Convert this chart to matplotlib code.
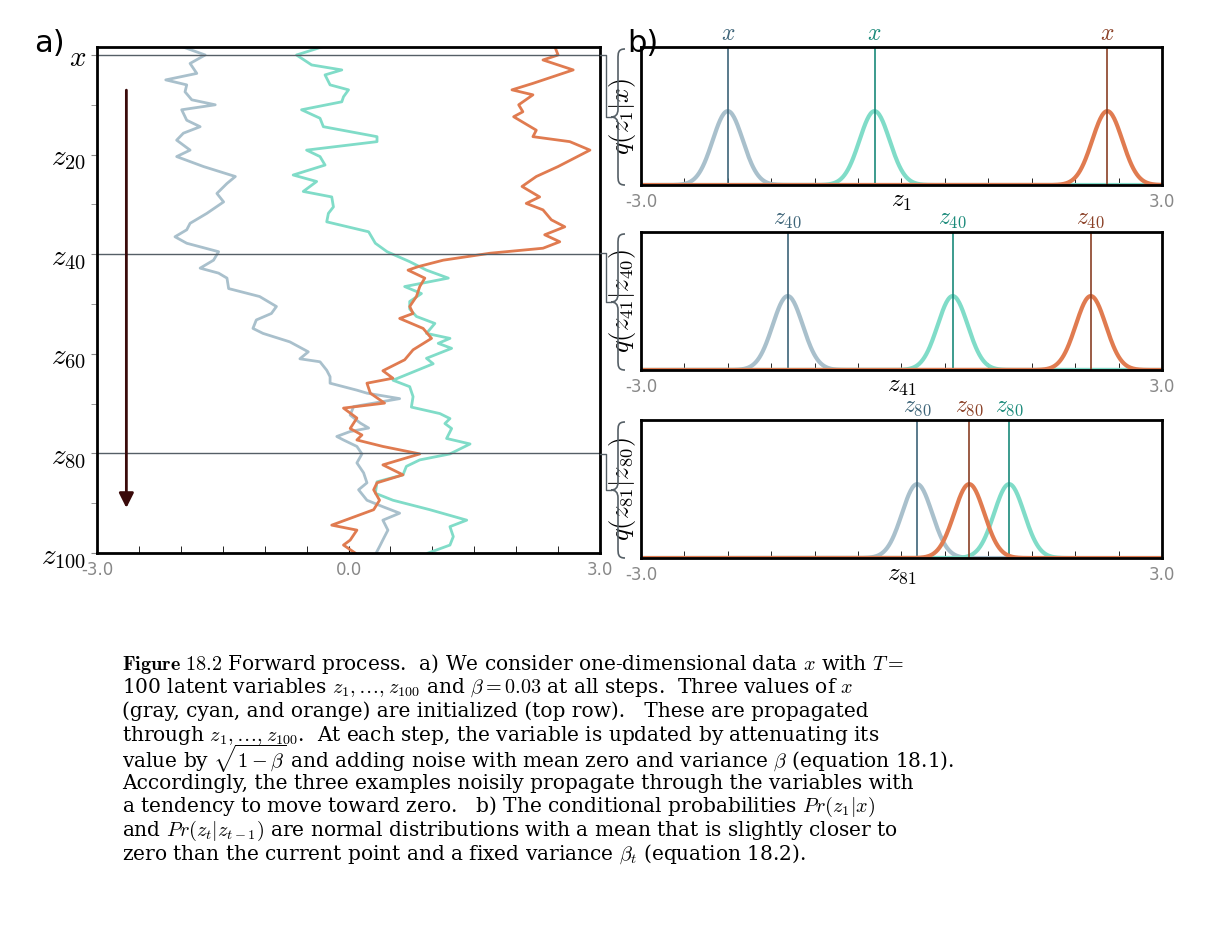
import numpy as np
import matplotlib
matplotlib.use("Agg")
import matplotlib.pyplot as plt
from matplotlib.path import Path
from matplotlib.patches import PathPatch

plt.rcParams['mathtext.fontset'] = 'cm'

# ---- panel a: three forward-diffusion paths (step, value)
gray_steps = [-1.7, 0, 1.7, 3.7, 5.0, 6.0, 7.4, 9.0, 10.0, 11.0, 13.1, 14.4, 15.7, 17.1, 19.1, 20.4, 22.4, 24.4,
              25.8, 27.8, 29.5, 31.8, 33.8, 35.1, 36.5, 37.8, 39.5, 41.2, 42.8, 43.8, 44.8, 46.9, 48.5, 50.5,
              51.9, 53.2, 54.9, 55.9, 57.6, 59.6, 61.0, 61.6, 63.3, 64.6, 65.9, 67.3, 67.9, 69.0, 70.6, 72.3,
              73.9, 74.9, 75.6, 76.6, 77.3, 78.6, 80.1, 81.9, 83.9, 85.9, 87.3, 89.4, 90.7, 92.0, 93.4, 95.4,
              96.7, 98.7, 100]
gray_vals = [-1.99, -1.71, -1.89, -1.81, -2.18, -1.93, -1.95, -1.87, -1.59, -1.99, -1.93, -1.77, -1.97, -2.05,
             -1.89, -2.05, -1.73, -1.35, -1.45, -1.57, -1.49, -1.69, -1.89, -1.93, -2.07, -1.93, -1.55, -1.61,
             -1.77, -1.55, -1.45, -1.43, -1.06, -0.86, -0.92, -1.10, -1.14, -1.02, -0.70, -0.48, -0.58, -0.34,
             -0.26, -0.22, -0.22, 0.10, 0.22, 0.61, 0.06, 0.02, 0.14, 0.24, 0.02, -0.14, -0.06, 0.10, 0.16,
             0.10, 0.18, 0.22, 0.12, 0.22, 0.41, 0.61, 0.41, 0.47, 0.43, 0.37, 0.33]

cyan_steps = [-1.7, 0, 2.0, 3.0, 4.0, 6.0, 7.0, 8.4, 9.4, 11.0, 12.7, 14.4, 16.4, 17.4, 19.1, 20.4, 22.1, 24.1,
              25.4, 27.4, 28.5, 30.5, 31.8, 33.5, 35.5, 37.8, 39.5, 41.5, 43.2, 44.8, 46.5, 47.9, 49.5, 51.0,
              52.5, 53.9, 55.9, 56.9, 57.9, 58.9, 60.9, 62.0, 65.3, 66.6, 68.6, 70.7, 72.0, 73.0, 74.0, 75.0,
              77.0, 78.1, 80.1, 81.3, 82.6, 84.3, 85.7, 88.0, 89.4, 91.3, 93.4, 94.7, 96.7, 98.4, 100]
cyan_vals = [-0.30, -0.62, -0.44, -0.08, -0.28, -0.22, 0.0, -0.06, -0.08, -0.56, -0.34, -0.30, 0.34, 0.34,
             -0.50, -0.34, -0.28, -0.66, -0.38, -0.54, -0.20, -0.18, -0.24, -0.26, 0.24, 0.32, 0.46, 0.73,
             0.93, 1.19, 0.67, 0.87, 0.73, 0.73, 0.81, 1.03, 0.93, 1.21, 1.07, 1.23, 0.93, 1.01, 0.53, 0.73,
             0.77, 0.75, 1.09, 1.21, 1.15, 1.23, 1.17, 1.45, 1.21, 0.85, 0.69, 0.65, 0.34, 0.32, 0.53, 0.97,
             1.41, 1.21, 1.25, 1.21, 0.95]

orange_steps = [-1.7, 0, 1.0, 3.0, 5.7, 7.0, 8.0, 10.0, 11.4, 12.4, 15.1, 16.4, 17.4, 19.1, 22.4, 24.4, 26.4,
                28.5, 29.8, 31.1, 33.1, 34.5, 36.1, 37.5, 38.8, 39.8, 41.2, 42.5, 43.2, 44.8, 46.5, 48.5,
                50.5, 51.9, 52.9, 54.9, 56.9, 59.2, 61.2, 63.4, 64.9, 65.9, 67.9, 69.9, 70.9, 72.9, 75.0,
                76.3, 77.3, 78.6, 80.1, 82.3, 84.3, 85.9, 87.3, 89.4, 91.3, 94.4, 95.4, 97.4, 98.4, 100]
orange_vals = [2.46, 2.50, 2.32, 2.68, 2.20, 1.95, 2.20, 2.03, 2.08, 1.97, 2.24, 2.20, 2.64, 2.88, 2.50, 2.24,
               2.07, 2.28, 2.12, 2.32, 2.42, 2.58, 2.34, 2.52, 2.32, 1.69, 1.13, 0.83, 0.71, 0.91, 0.85, 0.81,
               0.73, 0.77, 0.61, 0.89, 0.99, 0.77, 0.67, 0.41, 0.53, 0.22, 0.26, 0.43, -0.06, 0.10, 0.02,
               0.16, 0.10, 0.41, 0.85, 0.41, 0.65, 0.34, 0.30, 0.37, 0.30, -0.20, 0.10, 0.02, -0.06, 0.08]

ytick_steps = [0, 20, 40, 60, 80, 100]
ytick_labels = [r'$x$', r'$z_{20}$', r'$z_{40}$', r'$z_{60}$', r'$z_{80}$', r'$z_{100}$']
marked_steps = [0, 40, 80]

# ---- panel b: means of the conditionals (gray, cyan, orange) per row
b_means = [[-2.0, -0.31, 2.37], [-1.31, 0.59, 2.18], [0.18, 1.24, 0.78]]
b_tags = [r'$x$', r'$z_{40}$', r'$z_{80}$']
b_ylabels = [r'$q(z_1|x)$', r'$q(z_{41}|z_{40})$', r'$q(z_{81}|z_{80})$']
b_xlabels = [r'$z_1$', r'$z_{41}$', r'$z_{81}$']
beta = 0.03

light = ['#a9c0cc', '#80dcc8', '#e07b50']
dark = ['#3d6478', '#1a8a7a', '#8a3f25']
tick_grey = '#888888'
line_grey = '#555f66'

W, H = 1222, 946
fig = plt.figure(figsize=(W / 100, H / 100), dpi=100)


def brace(fig, x, top, bot, w):
    """left-pointing curly brace in figure pixel coords (y from top)"""
    mid = (top + bot) / 2
    xm = x + w / 2
    pts = [(x + w, top), (xm, top), (xm, top + 4), (xm, top + 10),
           (xm, mid - 8),
           (xm, mid - 2), (x + w * 0.3, mid), (x, mid),
           (x + w * 0.3, mid), (xm, mid + 2), (xm, mid + 8),
           (xm, bot - 10),
           (xm, bot - 4), (xm, bot), (x + w, bot)]
    codes = [Path.MOVETO, Path.CURVE4, Path.CURVE4, Path.CURVE4, Path.LINETO,
             Path.CURVE4, Path.CURVE4, Path.CURVE4, Path.CURVE4, Path.CURVE4, Path.CURVE4,
             Path.LINETO, Path.CURVE4, Path.CURVE4, Path.CURVE4]
    pts = [(px / W, 1 - py / H) for px, py in pts]
    fig.add_artist(PathPatch(Path(pts, codes), transform=fig.transFigure, fill=False,
                             color=line_grey, lw=1.2))


# panel a
axA = fig.add_axes([0.0794, 0.4154, 0.4116, 0.5349])
for s, v, c in zip([gray_steps, cyan_steps, orange_steps], [gray_vals, cyan_vals, orange_vals], light):
    axA.plot(v, s, color=c, lw=2)
for s in marked_steps:
    axA.axhline(s, color=line_grey, lw=1)
axA.annotate('', xy=(-2.65, 91.5), xytext=(-2.65, 6.5),
             arrowprops=dict(arrowstyle='-|>', color='#3a0a0a', lw=2, mutation_scale=22))
axA.set_xlim(-3, 3)
axA.set_ylim(100, -1.6)
axA.set_yticks(ytick_steps)
axA.set_yticklabels(ytick_labels, fontsize=21)
axA.set_yticks(np.arange(10, 100, 20), minor=True)
axA.set_xticks([-3, 0, 3])
axA.set_xticklabels(['-3.0', '0.0', '3.0'], color=tick_grey, fontsize=12)
axA.set_xticks(np.arange(-2.5, 3, 0.5), minor=True)
axA.tick_params(axis='x', which='both', direction='in', length=5, pad=6)
axA.tick_params(axis='y', which='both', direction='out', length=4, color=tick_grey)
for sp in axA.spines.values():
    sp.set_linewidth(2)
fig.text(0.028, 0.945, 'a)', fontsize=22)

# panel b
zz = np.linspace(-3, 3, 600)
sd = np.sqrt(beta)
bottoms = [0.8044, 0.6089, 0.4101]
tops_px = [47, 232, 420]
for i in range(3):
    ax = fig.add_axes([0.5245, bottoms[i], 0.4264, 0.1459])
    for m, lc, dc in zip(b_means[i], light, dark):
        ax.plot(zz, np.exp(-0.5 * ((zz - m) / sd) ** 2) / (sd * np.sqrt(2 * np.pi)), color=lc, lw=3)
        ax.axvline(m, color=dc, lw=1.2)
        ax.text(m, 4.35, b_tags[i], color=dc, fontsize=17, ha='center', va='bottom')
    ax.set_xlim(-3, 3)
    ax.set_ylim(0, 4.3)
    ax.set_yticks([])
    ax.set_xticks([-3, 3])
    ax.set_xticklabels(['-3.0', '3.0'], color=tick_grey, fontsize=12)
    ax.set_xticks(np.arange(-2.5, 3, 0.5), minor=True)
    ax.tick_params(axis='x', which='both', direction='in', length=5, pad=6)
    ax.set_xlabel(b_xlabels[i], fontsize=18, labelpad=-16)
    ax.set_ylabel(b_ylabels[i], fontsize=19, labelpad=2)
    for sp in ax.spines.values():
        sp.set_linewidth(2)
    brace(fig, 611, tops_px[i] + 2, tops_px[i] + 138, 14)
fig.text(0.513, 0.945, 'b)', fontsize=22)

# connectors from the marked rows of panel a to the braces
row_y = [55, 253, 454]
for ry, tp in zip(row_y, tops_px):
    by = tp + 70
    xs = np.array([600, 606, 606, 611]) / W
    ys = 1 - np.array([ry, ry, by, by]) / H
    fig.add_artist(plt.Line2D(xs, ys, color=line_grey, lw=1))

# caption
cap = [
    r'$\bf{Figure\ 18.2}$ Forward process.  a) We consider one-dimensional data $x$ with $T=$',
    r'100 latent variables $z_1,\ldots,z_{100}$ and $\beta=0.03$ at all steps.  Three values of $x$',
    r'(gray, cyan, and orange) are initialized (top row).   These are propagated',
    r'through $z_1,\ldots,z_{100}$.  At each step, the variable is updated by attenuating its',
    r'value by $\sqrt{1-\beta}$ and adding noise with mean zero and variance $\beta$ (equation 18.1).',
    r'Accordingly, the three examples noisily propagate through the variables with',
    r'a tendency to move toward zero.   b) The conditional probabilities $Pr(z_1|x)$',
    r'and $Pr(z_t|z_{t-1})$ are normal distributions with a mean that is slightly closer to',
    r'zero than the current point and a fixed variance $\beta_t$ (equation 18.2).',
]
for k, line in enumerate(cap):
    fig.text(0.1, 1 - (664 + 23.8 * k) / H, line, fontsize=14.5, family='DejaVu Serif', va='center')

fig.savefig('out.png', dpi=100)
